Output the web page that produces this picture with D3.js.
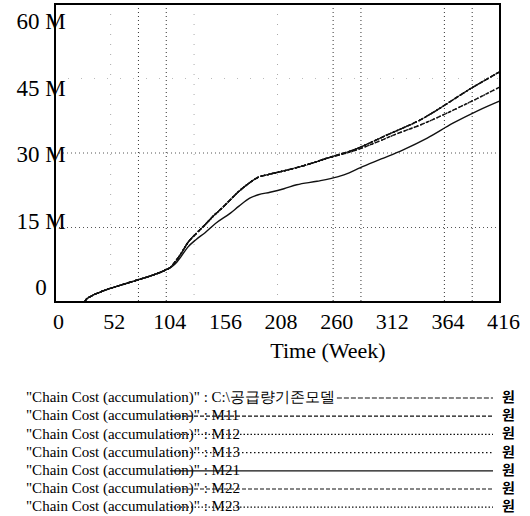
<!DOCTYPE html>
<html><head><meta charset="utf-8">
<script src="https://cdn.jsdelivr.net/npm/d3@7"></script>
<style>
html,body{margin:0;padding:0;background:#fff;}
svg{display:block;}
</style></head>
<body>
<script>
// ---------- data ----------
const xTicks = [0, 52, 104, 156, 208, 260, 312, 364, 416];
const yTicks = [0, 15e6, 30e6, 45e6, 60e6];
const yTickLabels = ["0", "15 M", "30 M", "45 M", "60 M"];
const xTitle = "Time (Week)";
const gridWeeksStrong = [78, 104, 260, 286, 364, 390];
const gridWeeksFaint = [52, 130, 208];
const gridValues = [15e6, 30e6];
const gridValuesFaint = [45e6];

// upper curve (weeks, value in M)
const upperWeeks = [0, 27, 28, 30, 33, 40, 47, 60, 78, 90, 103, 108, 112, 118, 124, 132, 140, 148, 157, 164, 170, 180, 189, 200, 210, 225, 241, 252, 264, 279, 295, 310, 326, 341, 356, 372, 388, 400, 416];
const upperVals  = [0, 0, 0.2, 0.7, 1.1, 1.8, 2.4, 3.3, 4.5, 5.3, 6.4, 7.0, 8.0, 9.8, 11.9, 13.8, 15.5, 17.3, 19.1, 20.6, 21.9, 23.7, 25.0, 25.7, 26.2, 27.0, 28.0, 28.8, 29.6, 30.6, 32.1, 33.6, 35.1, 36.6, 38.5, 40.7, 42.9, 44.4, 46.4];
// middle curve
const middleWeeks = [0, 27, 28, 30, 33, 40, 47, 60, 78, 90, 103, 108, 112, 118, 124, 132, 140, 148, 157, 164, 170, 180, 189, 200, 210, 225, 241, 252, 264, 279, 301, 320, 341, 356, 372, 395, 416];
const middleVals  = [0, 0, 0.2, 0.7, 1.1, 1.8, 2.4, 3.3, 4.5, 5.3, 6.4, 7.0, 8.0, 9.8, 11.9, 13.8, 15.5, 17.3, 19.1, 20.6, 21.9, 23.7, 25.0, 25.7, 26.2, 27.0, 28.0, 28.8, 29.5, 30.4, 32.2, 33.9, 35.6, 37.0, 38.6, 41.0, 43.3];
// lower curve
const lowerWeeks = [0, 27, 28, 30, 33, 40, 47, 60, 78, 90, 103, 107, 112, 118, 124, 132, 140, 150, 164, 172, 182, 190, 201, 214, 226, 245, 264, 275, 285, 305, 325, 348, 372, 395, 416];
const lowerVals  = [0, 0, 0.2, 0.7, 1.1, 1.8, 2.4, 3.3, 4.5, 5.3, 6.4, 6.8, 7.6, 9.2, 11.0, 12.6, 13.9, 15.8, 17.9, 19.3, 20.9, 21.6, 22.1, 22.8, 23.6, 24.3, 25.2, 26.0, 27.0, 28.8, 30.6, 33.0, 36.0, 38.5, 40.5];

const seriesNames = ["C:\\공급량기존모델", "M11", "M12", "M13", "M21", "M22", "M23"];
const seriesCurve = ["upper", "upper", "middle", "upper", "lower", "middle", "upper"];
const seriesDash  = ["5,2", "4,2", "1.5,2", "1.5,2.5", null, "4,2", "1.5,2"];
const legendPrefix = "\"Chain Cost (accumulation)\" : ";
const unitLabel = "원";

const curves = {
  upper:  upperWeeks.map((w, i) => ({w, v: upperVals[i] * 1e6})),
  middle: middleWeeks.map((w, i) => ({w, v: middleVals[i] * 1e6})),
  lower:  lowerWeeks.map((w, i) => ({w, v: lowerVals[i] * 1e6}))
};

// ---------- font detection ----------
function pickFont(cands) {
  const c = document.createElement("canvas").getContext("2d");
  const s = "60 M Time (Week) Chain Cost accumulation";
  for (const base of ["monospace", "sans-serif"]) {
    c.font = "20px " + base;
    const w0 = c.measureText(s).width;
    for (const f of cands) {
      c.font = `20px "${f}", ${base}`;
      if (Math.abs(c.measureText(s).width - w0) > 0.5) return `"${f}"`;
    }
  }
  return "serif";
}
const serifFont = pickFont(["Liberation Serif", "Times New Roman", "Tinos", "Times", "DejaVu Serif", "Noto Serif", "FreeSerif", "Nimbus Roman", "Nimbus Roman No9 L", "Noto Serif CJK KR"]) + ", serif";

// ---------- layout ----------
const W = 530, H = 516;
const L = 55, R = 500, T = 4, B = 302;

const svg = d3.select("body").append("svg").attr("width", W).attr("height", H);

const x = d3.scaleLinear().domain([0, 416]).range([L, R]);
const y = d3.scaleLinear().domain([0, 60e6]).range([B, T]);
const yLab = d3.scaleLinear().domain([0, 60e6]).range([287, 21]);

// gridlines
const g = svg.append("g");
g.selectAll(".vgs").data(gridWeeksStrong).join("line")
  .attr("x1", d => x(d)).attr("x2", d => x(d)).attr("y1", T).attr("y2", B)
  .attr("stroke", "#333").attr("stroke-width", 1).attr("stroke-dasharray", "1,3");
g.selectAll(".vgf").data(gridWeeksFaint).join("line")
  .attr("x1", d => x(d)).attr("x2", d => x(d)).attr("y1", T).attr("y2", B)
  .attr("stroke", "#aaa").attr("stroke-width", 1).attr("stroke-dasharray", "1,9");
g.selectAll(".hg").data(gridValues).join("line")
  .attr("x1", L).attr("x2", R).attr("y1", d => y(d)).attr("y2", d => y(d))
  .attr("stroke", "#555").attr("stroke-width", 1).attr("stroke-dasharray", "1,3");
g.selectAll(".hgf").data(gridValuesFaint).join("line")
  .attr("x1", L).attr("x2", R).attr("y1", d => y(d)).attr("y2", d => y(d))
  .attr("stroke", "#bbb").attr("stroke-width", 1).attr("stroke-dasharray", "1,12");

// curves
const line = d3.line().x(d => x(d.w)).y(d => y(d.v)).curve(d3.curveMonotoneX);
svg.append("g").selectAll("path").data(seriesNames).join("path")
  .attr("d", (d, i) => line(curves[seriesCurve[i]]))
  .attr("fill", "none").attr("stroke", "#111").attr("stroke-width", 1.4)
  .attr("stroke-dasharray", (d, i) => seriesDash[i]);

// frame
svg.append("rect").attr("x", L).attr("y", T).attr("width", R - L).attr("height", B - T)
  .attr("fill", "none").attr("stroke", "#000").attr("stroke-width", 2);

// x axis
const xAxis = d3.axisBottom(x).tickValues(xTicks).tickSize(0).tickPadding(0).tickFormat(d3.format("d"));
const xa = svg.append("g").attr("transform", `translate(3,${B})`).call(xAxis);
xa.attr("font-family", serifFont).attr("font-size", 22);
xa.select(".domain").remove();
xa.selectAll("text").attr("dy", null).attr("y", 27).attr("fill", "#000");

// y axis labels
svg.append("g").selectAll("text").data(yTicks).join("text")
  .attr("font-family", serifFont).attr("font-size", 23)
  .attr("x", 41).attr("y", d => yLab(d)).attr("dy", "0.35em")
  .attr("text-anchor", "middle")
  .text((d, i) => yTickLabels[i]);

svg.append("text").attr("font-family", serifFont).attr("font-size", 22)
  .attr("x", 328).attr("y", 358).attr("text-anchor", "middle").text(xTitle);

// legend
const leg = svg.append("g");
seriesNames.forEach((name, i) => {
  const cy = 397 + i * 18.2;
  const t = leg.append("text").attr("font-family", serifFont).attr("font-size", 15)
    .attr("x", 26).attr("y", cy).attr("dy", "0.35em").attr("fill", "#000")
    .text(legendPrefix + name);
  const end = 26 + t.node().getComputedTextLength();
  const start = i === 0 ? end + 2 : Math.min(170, end + 2);
  leg.append("line").attr("x1", start).attr("x2", 493).attr("y1", cy + 1).attr("y2", cy + 1)
    .attr("stroke", "#111").attr("stroke-width", 1.2).attr("stroke-dasharray", seriesDash[i]);
  leg.append("text").attr("x", 502).attr("y", cy).attr("dy", "0.35em")
    .attr("font-family", "'Noto Sans CJK KR',sans-serif").attr("font-size", 14).attr("font-weight", "bold")
    .text(unitLabel);
});
</script>
</body></html>
